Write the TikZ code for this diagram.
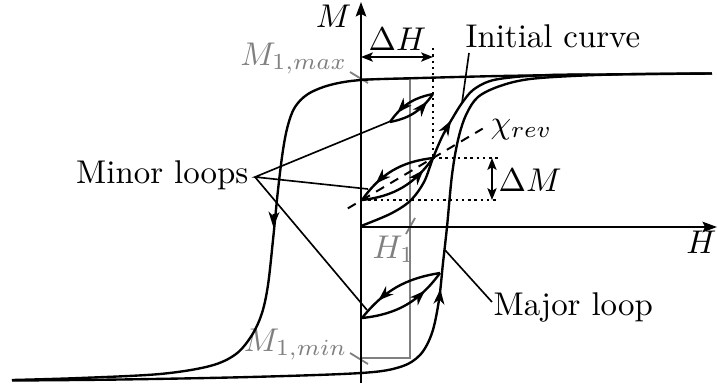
\documentclass[tikz,border=0pt]{standalone}
\usetikzlibrary{arrows.meta,decorations.markings,calc}
\definecolor{lblgray}{RGB}{128,128,128}
\begin{document}
\begin{tikzpicture}[x=0.304pt,y=-0.304pt,
  curve/.style={line width=0.72pt, line join=round},
  axis/.style={line width=0.65pt,-{Stealth[length=4.4pt,width=3.2pt,inset=0.8pt]}},
  leader/.style={line width=0.5pt},
  grayline/.style={draw=lblgray,line width=0.55pt},
  lbl/.style={inner sep=0pt},
  graylbl/.style={inner sep=0pt,text=lblgray},
  tip/.style={-{Stealth[length=4.6pt,width=3.3pt,inset=1.4pt]}, line width=0.72pt},
  arcarrow/.style={postaction={decorate},decoration={markings,
      mark=at position #1 with {\arrow{Stealth[length=4.6pt,width=3.3pt,inset=1.4pt]}}}},
  dimarrow/.style={line width=0.55pt,{Stealth[length=3.6pt,width=2.8pt,inset=0.8pt]}-{Stealth[length=3.6pt,width=2.8pt,inset=0.8pt]}},
  dots/.style={line width=0.75pt, dash pattern=on 0.7pt off 1.2pt},
  chi/.style={line width=0.6pt, dash pattern=on 2.8pt off 2.2pt},
]
\useasboundingbox (0,0) rectangle (718,383);

% key points
\coordinate (O) at (361,227);
\coordinate (Mtop) at (361,2);
\coordinate (Mbot) at (361,383);
\coordinate (Hend) at (717,227);
\coordinate (A) at (390,122);
\coordinate (B) at (433,94);
\coordinate (C) at (362,200);
\coordinate (D) at (433,158);
\coordinate (E) at (362,318);
\coordinate (F) at (440,273);

% gray H1 / M1 frame
\coordinate (g1) at (361,79);
\coordinate (g2) at (410,79);
\coordinate (g3) at (410,358);
\coordinate (g4) at (361,358);
\draw[grayline] (g1) -- (g2) -- (g3) -- (g4);
\coordinate (t1a) at (350,72);
\coordinate (t1b) at (368,83);
\coordinate (t2a) at (350,353);
\coordinate (t2b) at (368,364);
\coordinate (t3a) at (406,234);
\coordinate (t3b) at (415,218);
\draw[grayline] (t1a) -- (t1b);
\draw[grayline] (t2a) -- (t2b);
\draw[grayline] (t3a) -- (t3b);
\node[graylbl, anchor=base east] (M1max) at (348,65) {$M_{1,max}$};
\node[graylbl, anchor=base east] (M1min) at (348,351) {$M_{1,min}$};
\node[graylbl, anchor=base west] (H1) at (372,258) {$H_1$};

% axes
\draw[axis] (Mbot) -- (Mtop);
\draw[axis] (O) -- (Hend);
\node[lbl, anchor=base east] (Mlab) at (352,27) {$M$};
\node[lbl, anchor=base east] (Hlab) at (717,253) {$H$};

% major loop
\draw[curve] plot[smooth, tension=0.55] coordinates {
 (712,73.5) (600,74.5) (500,76) (420,78) (361,80) (330,85) (308,94) (295,107)
 (288,125) (283,150) (278,190) (273,240) (268,285) (262,313) (252,335)
 (236,354) (210,366) (160,374) (80,378) (12,380)};
\draw[curve] plot[smooth, tension=0.55] coordinates {
 (12,380.5) (120,379.5) (250,377) (361,373) (400,367) (420,355) (432,333)
 (439,300) (443,263) (447,227) (452,175) (458,140) (466,115) (478,97)
 (500,86) (530,79) (583,75.5) (640,74) (712,73.5)};
\draw[tip] (273.9,214) -- (273.3,227);
\draw[tip] (439.2,301) -- (440.4,289);

% initial curve
\draw[curve] plot[smooth, tension=0.55] coordinates {
 (361,226) (390,214) (410,201) (424,182) (433,158) (442,137) (452,119)
 (462,103) (473,90) (490,81) (515,77) (550,75) (590,74.5)};
\draw[tip] (445,131) -- (451,120.5);

% reversible susceptibility line
\coordinate (chiA) at ($(C)!-0.2!(D)$);
\coordinate (chiB) at ($(C)!1.7!(D)$);
\draw[chi] (chiA) -- (chiB);
\node[lbl, anchor=base west] (chilab) at (490,133) {$\chi_{rev}$};

% minor loops
\draw[curve, arcarrow=0.78] (B) to[bend right=22] (A);
\draw[curve, arcarrow=0.82] (A) to[bend right=22] (B);
\draw[curve, arcarrow=0.75] (D) to[bend right=24] (C);
\draw[curve, arcarrow=0.82] (C) to[bend right=24] (D);
\draw[curve, arcarrow=0.74] (F) to[bend right=21] (E);
\draw[curve, arcarrow=0.75] (E) to[bend right=24] (F);

% Delta H and Delta M
\coordinate (dHtop) at (433,48);
\draw[dots] (dHtop) -- (D);
\coordinate (dHa) at (361,57);
\coordinate (dHb) at (433,57);
\draw[dimarrow] (dHa) -- (dHb);
\node[lbl, anchor=base west] (dHlab) at (368,50) {$\Delta H$};
\coordinate (dMa) at (498,158);
\coordinate (dMb) at (498,200);
\draw[dots] (D) -- (dMa);
\draw[dots] (C) -- (dMb);
\coordinate (dMc) at (492,158);
\coordinate (dMd) at (492,200);
\draw[dimarrow] (dMc) -- (dMd);
\node[lbl, anchor=base west] (dMlab) at (498,191) {$\Delta M$};

% labels and leaders
\node[lbl, anchor=base east] (minor) at (249,183) {Minor loops};
\coordinate (ml) at (255,177);
\coordinate (mlA) at (391,121);
\coordinate (mlC) at (368,189);
\coordinate (mlE) at (367,310);
\draw[leader] (mlA) -- (ml) -- (mlC);
\draw[leader] (ml) -- (mlE);

\node[lbl, anchor=base west] (initial) at (465,47) {Initial curve};
\coordinate (ic1) at (469,53);
\coordinate (ic2) at (462,103);
\draw[leader] (ic1) -- (ic2);

\node[lbl, anchor=base west] (major) at (493,315) {Major loop};
\coordinate (mj1) at (492,302);
\coordinate (mj2) at (445,250);
\draw[leader] (mj1) -- (mj2);
\end{tikzpicture}
\end{document}
